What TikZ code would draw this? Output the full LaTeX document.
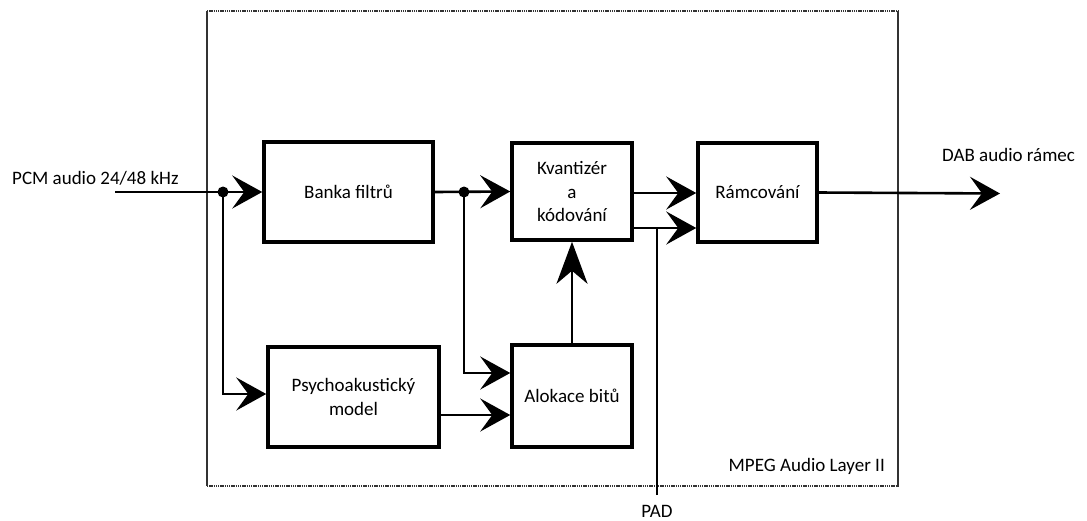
\documentclass[tikz,border=0pt]{standalone}
\usepackage{fontspec}
\setmainfont{Carlito}
\usetikzlibrary{arrows.meta,calc}
\begin{document}
\begin{tikzpicture}[x=1pt,y=-1pt,
  txt/.style={font=\fontsize{19}{23.5}\selectfont},
  box/.style={txt,draw,line width=3.5pt,inner sep=0pt,align=center},
  lbl/.style={txt,inner sep=0pt},
  conn/.style={line width=2.6pt},
  arr/.style={conn,-{Stealth[length=30pt,width=33pt,inset=12pt]}},
  varr/.style={conn,-{Stealth[length=42pt,width=31pt,inset=13pt]}},
  frame/.style={line width=1.2pt,black!80},
  dotframe/.style={frame,dash pattern=on 1.4pt off 0.8pt},
  junction/.style={circle,fill,inner sep=0pt,minimum size=11pt}]
\useasboundingbox (0,0) rectangle (1087,520);

% encoder frame: solid sides, dotted top and bottom
\draw[frame] (207,11) -- (207,486);
\draw[frame] (898,11) -- (898,487);
\draw[dotframe] (207,11) -- (898,11);
\draw[dotframe] (207,486) -- (898,486);
\node[lbl,anchor=base east] (mpeg) at (885,471) {MPEG Audio Layer II};

% processing blocks
\node[box,minimum width=169pt,minimum height=100pt] (bank) at (348.5,192) {Banka filtrů};
\node[box,minimum width=120pt,minimum height=97pt] (kv) at (572,191.5) {Kvantizér\\a\\kódování};
\node[box,minimum width=119pt,minimum height=99pt] (ram) at (757.5,192.5) {Rámcování};
\node[box,minimum width=171pt,minimum height=100pt] (psy) at (353.5,397) {Psychoakustický\\model};
\node[box,minimum width=120pt,minimum height=102pt] (alo) at (572,396) {Alokace bitů};

% input
\node[lbl,anchor=base west] (pcm) at (12,184) {PCM audio 24/48 kHz};
\coordinate (in) at (115,192);
\node[junction] (j1) at (223,192) {};
\draw[arr] (in) -- (bank.west);
\draw[arr] (j1.center) |- ($(psy.west)+(0,-3)$);

% filter bank output
\node[junction] (j2) at (464,192) {};
\draw[arr] (bank.east) -- (kv.west);
\draw[arr] (j2.center) |- ($(alo.west)+(0,-23)$);
\draw[arr] ($(psy.east)+(0,18)$) -- ($(alo.west)+(0,19)$);
\draw[varr] (alo.north) -- (kv.south);

% quantizer to framing, PAD input
\draw[arr] ($(kv.east)+(0,1.5)$) -- ($(ram.west)+(0,0.5)$);
\draw[arr] ($(kv.east)+(0,36.5)$) -- ($(ram.west)+(0,35.5)$);
\node[lbl,anchor=base] (pad) at (657,517) {PAD};
\coordinate (padtop) at (657,495);
\coordinate (padjoin) at (657,228);
\draw[conn] (padtop) -- (padjoin);

% output
\coordinate (out) at (1000,193.5);
\draw[arr] (ram.east) -- (out);
\node[lbl,anchor=base west] (dab) at (942,161) {DAB audio rámec};
\end{tikzpicture}
\end{document}
